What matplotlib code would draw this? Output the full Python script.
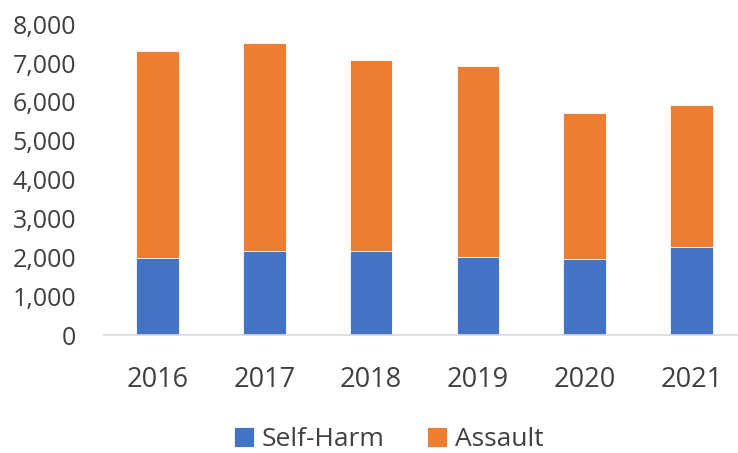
import matplotlib
matplotlib.use("Agg")
import matplotlib.pyplot as plt
from matplotlib.ticker import FuncFormatter

years = ["2016", "2017", "2018", "2019", "2020", "2021"]
self_harm = [2000, 2155, 2155, 2010, 1960, 2270]
totals = [7308, 7506, 7077, 6923, 5707, 5920]
assault = [t - s for t, s in zip(totals, self_harm)]

plt.rcParams['font.family'] = ['Open Sans', 'DejaVu Sans']

fig = plt.figure(figsize=(7.38, 4.53), dpi=100)
ax = fig.add_axes([104/738, 1 - 335.3/453, 1 - 104/738, (335.3 - 24.1)/453])

x = list(range(len(years)))
w = 0.40
ax.bar(x, self_harm, width=w, color='#4472C4', edgecolor='white', linewidth=0.6, label='Self-Harm')
ax.bar(x, assault, width=w, bottom=self_harm, color='#ED7D31', edgecolor='white', linewidth=0.6, label='Assault')

ax.set_ylim(0, 8000)
ax.set_xlim(-0.5, 5.5 - 7/106.8)
ax.set_yticks(range(0, 8001, 1000))
ax.yaxis.set_major_formatter(FuncFormatter(lambda v, p: f"{int(v):,}"))
ax.set_xticks(x)
ax.set_xticklabels(years)

for s in ['top', 'right', 'left']:
    ax.spines[s].set_visible(False)
ax.spines['bottom'].set_color('#d9d9d9')
ax.spines['bottom'].set_linewidth(1.2)

ax.tick_params(axis='y', length=0, pad=20, labelsize=18, labelcolor='#404040')
ax.tick_params(axis='x', length=0, pad=22, labelsize=19.5, labelcolor='#404040')

fig.legend(loc='center', bbox_to_anchor=(0.527, 0.029), ncol=2, frameon=False,
           fontsize=19, handlelength=0.75, handleheight=0.75, handletextpad=0.3,
           columnspacing=1.6, labelcolor='#404040')

fig.savefig("out.png", dpi=100)
